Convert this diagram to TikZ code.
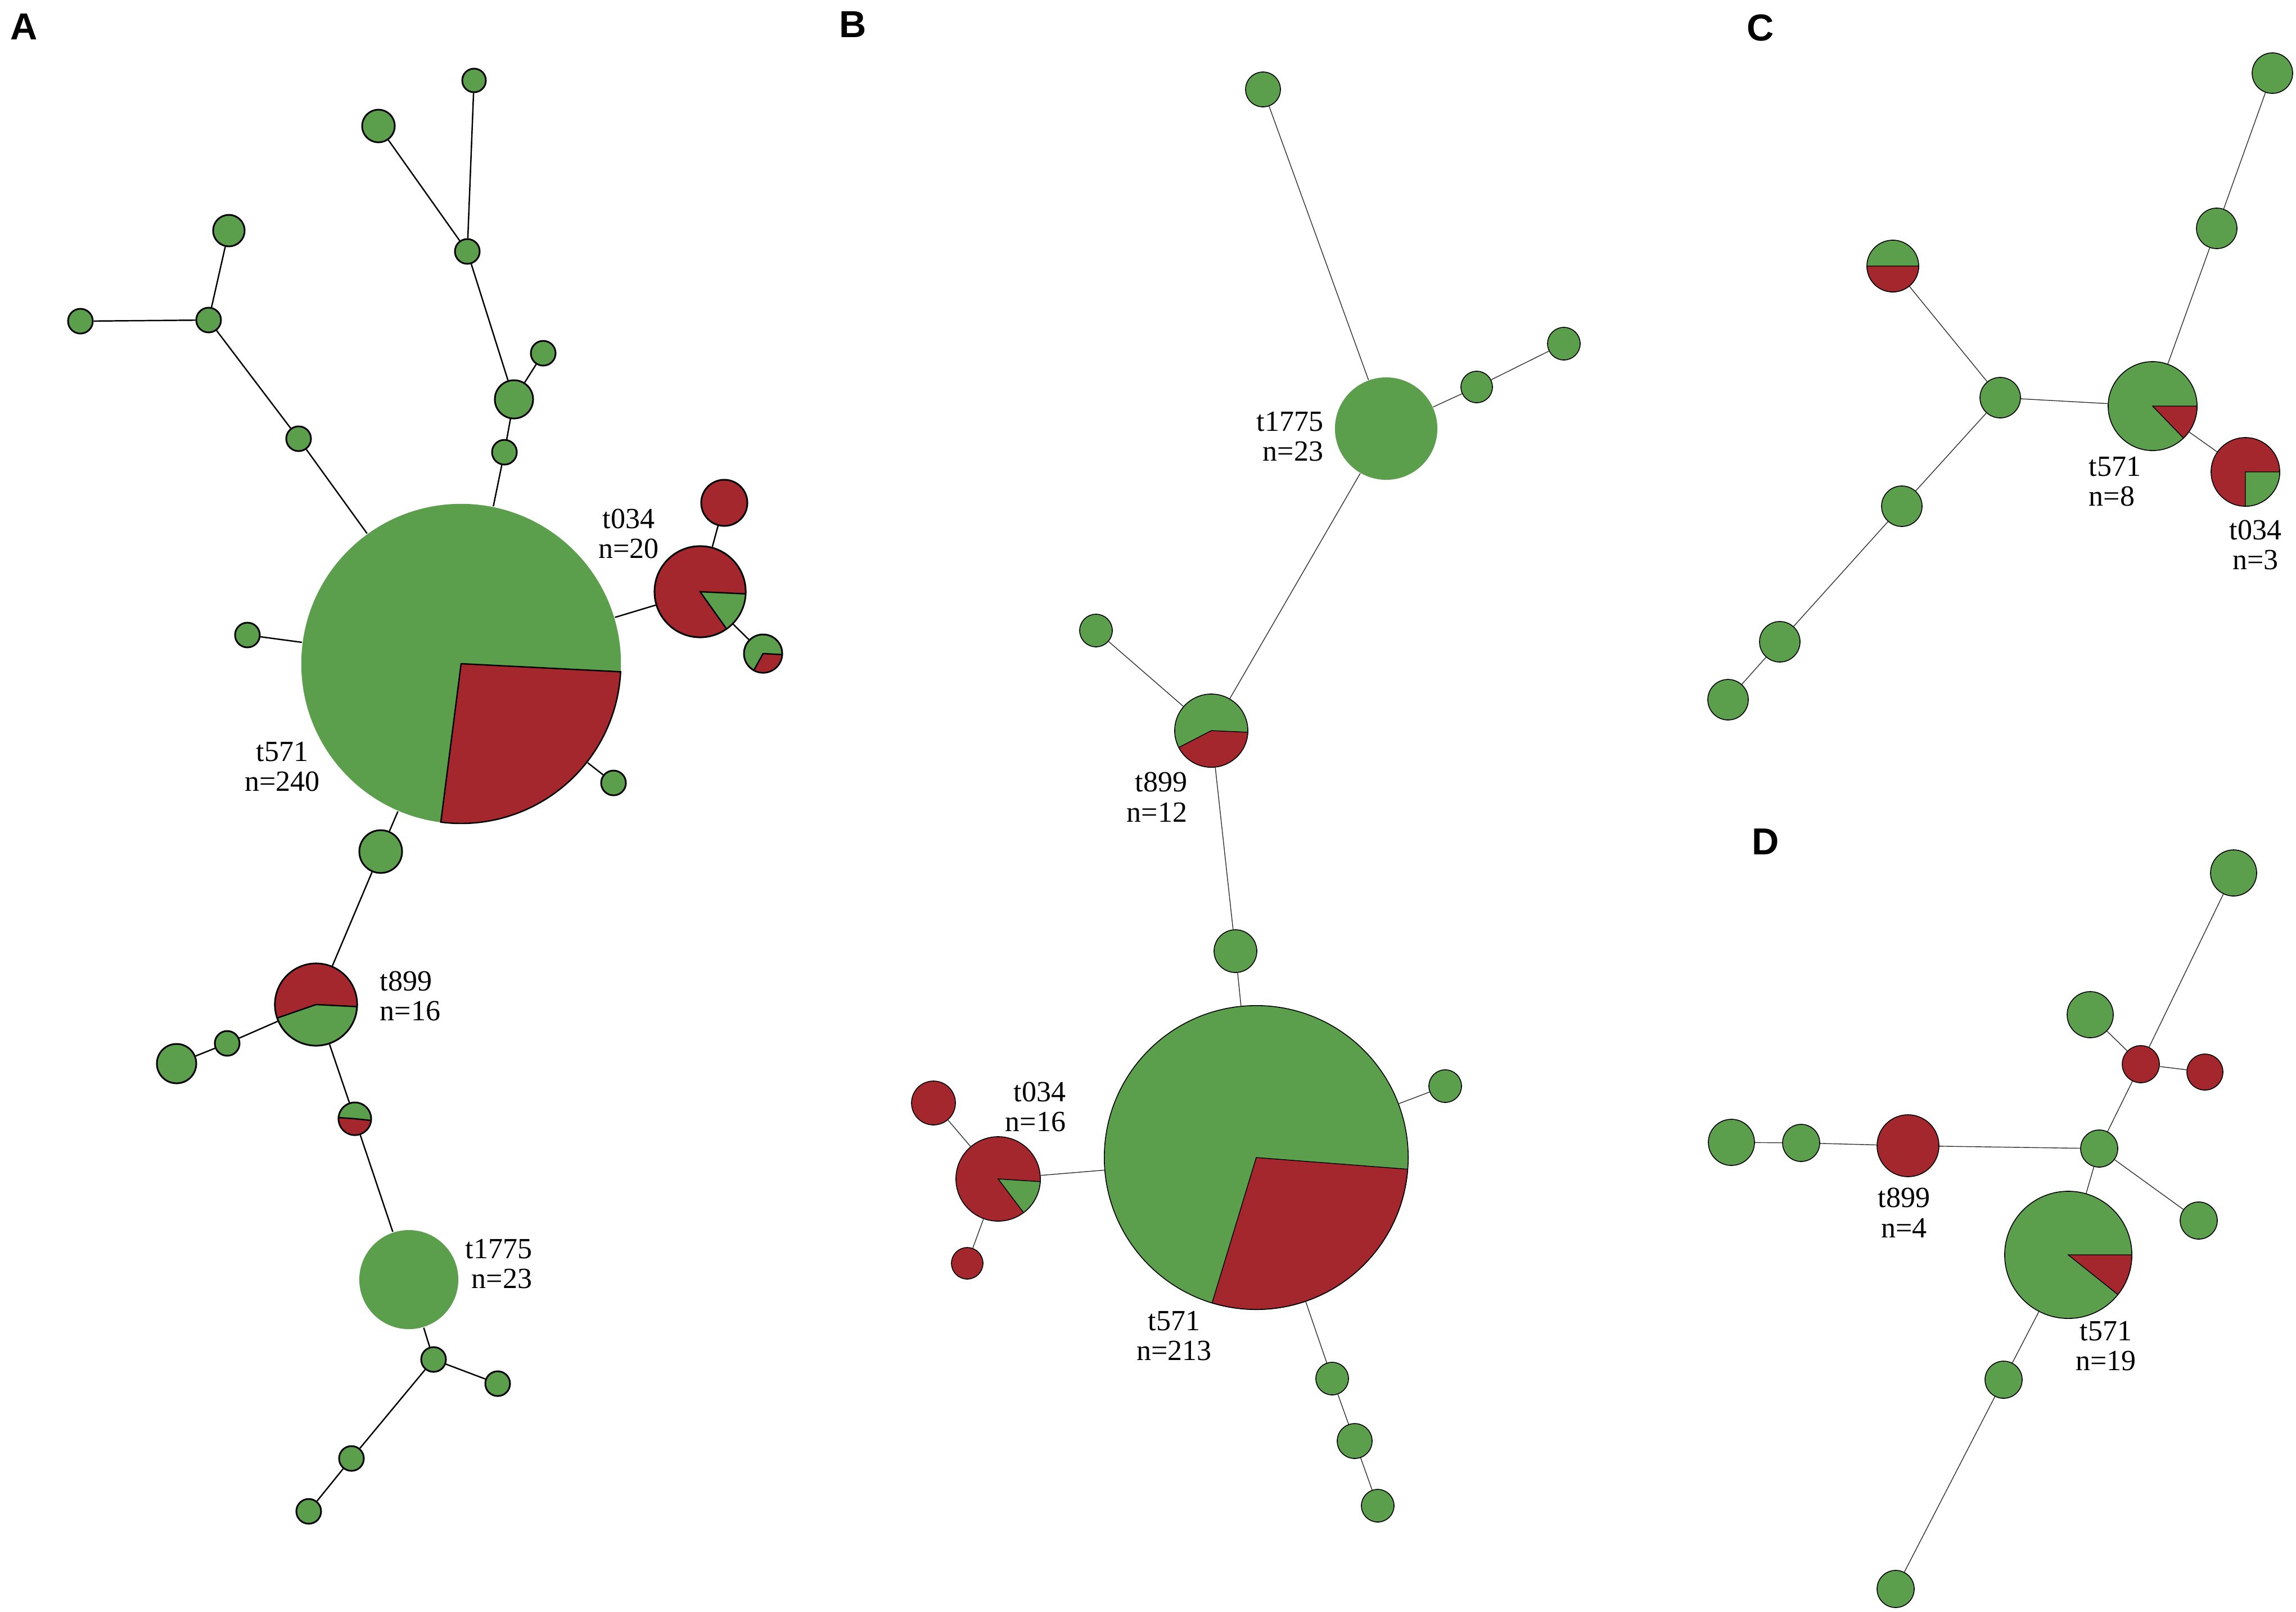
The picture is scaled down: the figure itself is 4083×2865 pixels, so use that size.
\documentclass[tikz,border=0pt]{standalone}
\usepackage{fontspec}
\setmainfont{Liberation Serif}
\setsansfont{Liberation Sans}
\definecolor{pgreen}{RGB}{91,158,76}
\definecolor{pred}{RGB}{165,39,46}
\newcommand{\lblfont}{\fontsize{14.8}{15.2}\selectfont}
\newcommand{\panelfont}{\sffamily\bfseries\fontsize{19}{19}\selectfont}
\newcommand{\pslice}[5]{\filldraw[#5] (#1.center) -- ++(#3:#2) arc[start angle=#3, end angle=#4, radius=#2] -- cycle;}
\tikzset{
  nA/.style={circle, inner sep=0pt, draw=black, line width=0.85pt, fill=pgreen},
  nB/.style={circle, inner sep=0pt, draw=black, line width=0.45pt, fill=pgreen},
  sz/.style={minimum size={#1*0.02cm}},
  eA/.style={line width=0.7pt, draw=black},
  eB/.style={line width=0.4pt, draw=black!80},
  sA/.style={fill=#1, draw=black, line width=0.7pt},
  sB/.style={fill=#1, draw=black, line width=0.4pt},
  lbl/.style={font=\lblfont, inner sep=0pt, align=center},
  panel/.style={font=\panelfont, inner sep=0pt}
}
\begin{document}
\begin{tikzpicture}[x=0.01cm, y=0.01cm]
\useasboundingbox[fill=white] (0,0) rectangle (4083,-2865);

% ---------------- Panel A ----------------
\node[panel] (PA) at (43,-48) {A};
\node[nA, sz=21] (a1) at (843,-143) {};
\node[nA, sz=29] (a2) at (673,-224) {};
\node[nA, sz=22] (a3) at (831,-447) {};
\node[nA, sz=28] (a4) at (407,-410) {};
\node[nA, sz=22] (a5) at (143,-571) {};
\node[nA, sz=22] (a6) at (371,-569) {};
\node[nA, sz=22] (a7) at (531,-780) {};
\node[nA, sz=22] (a8) at (966,-628) {};
\node[nA, sz=34] (a9) at (914,-710) {};
\node[nA, sz=22] (a10) at (897,-804) {};
\node[nA, sz=284, draw=none] (aT571) at (820,-1180) {};
\node[nA, sz=22] (a11) at (440,-1129) {};
\node[nA, sz=22] (a12) at (1091,-1392) {};
\node[nA, sz=81, fill=pred] (aT034) at (1245,-1052) {};
\node[nA, sz=41, fill=pred] (a13) at (1288,-894) {};
\node[nA, sz=34] (a14) at (1357,-1162) {};
\node[nA, sz=38] (a15) at (677,-1514) {};
\node[nA, sz=73] (aT899) at (562,-1786) {};
\node[nA, sz=22] (a16) at (404,-1855) {};
\node[nA, sz=35] (a17) at (314,-1891) {};
\node[nA, sz=29] (a18) at (631,-1989) {};
\node[nA, sz=88, draw=none] (aT1775) at (727,-2275) {};
\node[nA, sz=22] (a19) at (771,-2417) {};
\node[nA, sz=22] (a20) at (885,-2460) {};
\node[nA, sz=22] (a21) at (625,-2593) {};
\node[nA, sz=22] (a22) at (549,-2687) {};

\pslice{aT571}{284}{262.7}{357.1}{sA=pred}
\pslice{aT034}{81}{-54.6}{-2.7}{sA=pgreen}
\pslice{a14}{34}{-119}{-3}{sA=pred}
\pslice{aT899}{73}{-2.9}{199.1}{sA=pred}
\pslice{a18}{29}{176}{354}{sA=pred}

\draw[eA] (a1) -- (a3);
\draw[eA] (a2) -- (a3);
\draw[eA] (a3) -- (a9);
\draw[eA] (a9) -- (a8);
\draw[eA] (a9) -- (a10);
\draw[eA] (a10) -- (aT571);
\draw[eA] (a4) -- (a6);
\draw[eA] (a5) -- (a6);
\draw[eA] (a6) -- (a7);
\draw[eA] (a7) -- (aT571);
\draw[eA] (a11) -- (aT571);
\draw[eA] (a12) -- (aT571);
\draw[eA] (aT571) -- (aT034);
\draw[eA] (aT034) -- (a13);
\draw[eA] (aT034) -- (a14);
\draw[eA] (aT571) -- (a15);
\draw[eA] (a15) -- (aT899);
\draw[eA] (aT899) -- (a16);
\draw[eA] (a16) -- (a17);
\draw[eA] (aT899) -- (a18);
\draw[eA] (a18) -- (aT1775);
\draw[eA] (aT1775) -- (a19);
\draw[eA] (a19) -- (a20);
\draw[eA] (a19) -- (a21);
\draw[eA] (a21) -- (a22);

\node[lbl] (LaT571) at (502,-1363) {t571\\n=240};
\node[lbl] (LaT034) at (1118,-949) {t034\\n=20};
\node[lbl, align=left, anchor=west] (LaT899) at (675,-1771) {t899\\n=16};
\node[lbl, align=right, anchor=east] (LaT1775) at (947,-2247) {t1775\\n=23};

% ---------------- Panel B ----------------
\node[panel] (PB) at (1517,-43) {B};
\node[nB, sz=31] (b1) at (2246,-159) {};
\node[nB, sz=91, draw=none] (bT1775) at (2465,-762) {};
\node[nB, sz=28] (b2) at (2626,-688) {};
\node[nB, sz=29] (b3) at (2781,-611) {};
\node[nB, sz=29] (b4) at (1949,-1121) {};
\node[nB, sz=65] (bT899) at (2154,-1299) {};
\node[nB, sz=38] (b5) at (2197,-1691) {};
\node[nB, sz=270] (bT571) at (2234,-2058) {};
\node[nB, sz=29] (b6) at (2570,-1931) {};
\node[nB, sz=75, fill=pred] (bT034) at (1775,-2096) {};
\node[nB, sz=39, fill=pred] (b7) at (1660,-1961) {};
\node[nB, sz=28, fill=pred] (b8) at (1720,-2246) {};
\node[nB, sz=29] (b9) at (2369,-2451) {};
\node[nB, sz=31] (b10) at (2409,-2562) {};
\node[nB, sz=29] (b11) at (2450,-2677) {};

\pslice{bT899}{65}{207.4}{357.5}{sB=pred}
\pslice{bT571}{270}{-106.9}{-4.4}{sB=pred}
\pslice{bT034}{75}{-53}{-3.7}{sB=pgreen}

\draw[eB] (b1) -- (bT1775);
\draw[eB] (bT1775) -- (b2);
\draw[eB] (b2) -- (b3);
\draw[eB] (bT1775) -- (bT899);
\draw[eB] (b4) -- (bT899);
\draw[eB] (bT899) -- (b5);
\draw[eB] (b5) -- (bT571);
\draw[eB] (bT571) -- (b6);
\draw[eB] (bT571) -- (bT034);
\draw[eB] (bT034) -- (b7);
\draw[eB] (bT034) -- (b8);
\draw[eB] (bT571) -- (b9);
\draw[eB] (b9) -- (b10);
\draw[eB] (b10) -- (b11);

\node[lbl, align=right, anchor=east] (LbT1775) at (2354,-776) {t1775\\n=23};
\node[lbl, align=right, anchor=east] (LbT899) at (2112,-1417) {t899\\n=12};
\node[lbl] (LbT571) at (2088,-2375) {t571\\n=213};
\node[lbl, align=right, anchor=east] (LbT034) at (1896,-1968) {t034\\n=16};

% ---------------- Panel C ----------------
\node[panel] (PC) at (3131,-49) {C};
\node[nB, sz=36] (c1) at (4041,-130) {};
\node[nB, sz=36] (c2) at (3942,-406) {};
\node[nB, sz=46] (c3) at (3366,-473) {};
\node[nB, sz=36] (c4) at (3557,-707) {};
\node[nB, sz=79] (cT571) at (3828,-722) {};
\node[nB, sz=61, fill=pred] (cT034) at (3993,-839) {};
\node[nB, sz=36] (c5) at (3382,-900) {};
\node[nB, sz=36] (c6) at (3165,-1141) {};
\node[nB, sz=36] (c7) at (3073,-1244) {};

\pslice{c3}{46}{180}{360}{sB=pred}
\pslice{cT571}{79}{-46}{0}{sB=pred}
\pslice{cT034}{61}{-90}{0}{sB=pgreen}

\draw[eB] (c1) -- (c2);
\draw[eB] (c2) -- (cT571);
\draw[eB] (c3) -- (c4);
\draw[eB] (c4) -- (cT571);
\draw[eB] (cT571) -- (cT034);
\draw[eB] (c4) -- (c5);
\draw[eB] (c5) -- (c6);
\draw[eB] (c6) -- (c7);

\node[lbl, align=left, anchor=west] (LcT571) at (3714,-856) {t571\\n=8};
\node[lbl] (LcT034) at (4011,-969) {t034\\n=3};

% ---------------- Panel D ----------------
\node[panel] (PD) at (3140,-1496) {D};
\node[nB, sz=41] (d1) at (3972,-1552) {};
\node[nB, sz=41] (d2) at (3717,-1804) {};
\node[nB, sz=33, fill=pred] (d3) at (3807,-1892) {};
\node[nB, sz=32, fill=pred] (d4) at (3921,-1906) {};
\node[nB, sz=33] (d5) at (3733,-2042) {};
\node[nB, sz=55, fill=pred] (dT899) at (3393,-2037) {};
\node[nB, sz=33] (d6) at (3203,-2032) {};
\node[nB, sz=41] (d7) at (3079,-2031) {};
\node[nB, sz=33] (d8) at (3910,-2170) {};
\node[nB, sz=113] (dT571) at (3678,-2231) {};
\node[nB, sz=33] (d9) at (3563,-2453) {};
\node[nB, sz=33] (d10) at (3371,-2825) {};

\pslice{dT571}{113}{-38.7}{0}{sB=pred}

\draw[eB] (d1) -- (d3);
\draw[eB] (d3) -- (d5);
\draw[eB] (d2) -- (d3);
\draw[eB] (d3) -- (d4);
\draw[eB] (d5) -- (d8);
\draw[eB] (d5) -- (dT571);
\draw[eB] (dT571) -- (d9);
\draw[eB] (d9) -- (d10);
\draw[eB] (d5) -- (dT899);
\draw[eB] (dT899) -- (d6);
\draw[eB] (d6) -- (d7);

\node[lbl] (LdT899) at (3386,-2156) {t899\\n=4};
\node[lbl] (LdT571) at (3745,-2393) {t571\\n=19};
\end{tikzpicture}
\end{document}
